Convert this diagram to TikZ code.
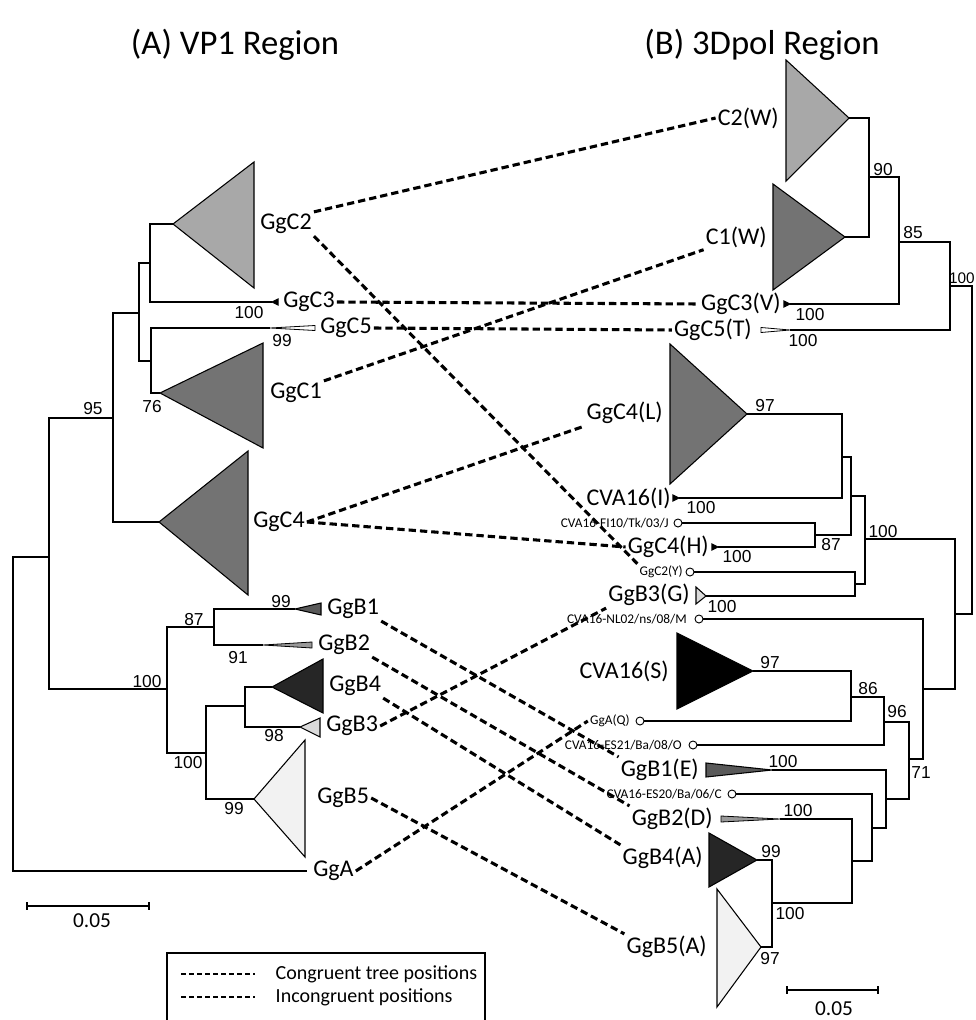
\documentclass[tikz,border=0pt]{standalone}
\usepackage{fontspec}
\setmainfont{Carlito}
\newfontfamily\numfont{Liberation Sans}
\usetikzlibrary{positioning}

\definecolor{cladeLight}{gray}{0.66}
\definecolor{cladeDark}{gray}{0.45}
\definecolor{cladeBlack}{gray}{0.15}
\definecolor{cladePale}{gray}{0.86}
\definecolor{cladeWhite}{gray}{0.95}
\definecolor{cladeMid}{gray}{0.35}
\definecolor{cladeGrey}{gray}{0.6}

\begin{document}
\begin{tikzpicture}[
    x=0.75pt, y=-0.75pt,
    branch/.style={line width=0.8pt},
    clade/.style={draw, line width=0.8pt, line join=miter},
    tipdot/.style={draw, fill=white, line width=0.7pt},
    link/.style={line width=2.3pt, dash pattern=on 5.5pt off 3pt},
    taxon/.style={font=\fontsize{18}{20}\selectfont, inner sep=1.5pt},
    strain/.style={font=\fontsize{10}{12}\selectfont, inner sep=1.5pt},
    boot/.style={font=\numfont\fontsize{13}{14}\selectfont, inner sep=0pt},
    heading/.style={font=\fontsize{26}{30}\selectfont},
    scalelab/.style={font=\fontsize{16}{18}\selectfont}
]
\useasboundingbox (0,0) rectangle (975,1020);

% Titles
\node[heading] (titleA) at (235,45) {(A) VP1 Region};
\node[heading] (titleB) at (762,45) {(B) 3Dpol Region};

% VP1 tree: branches
\draw[branch] (49,557) -- (13,557) -- (13,871) -- (307,871);
\draw[branch] (113,418) -- (49,418) -- (49,689) -- (167,689);
\draw[branch] (139,313) -- (113,313) -- (113,522) -- (159,522);
\draw[branch] (150,263) -- (139,263) -- (139,361) -- (151,361);
\draw[branch] (173,224) -- (150,224) -- (150,302) -- (272,302);
\draw[branch] (270,328) -- (151,328) -- (151,393) -- (160,393);
\draw[branch] (214,627) -- (167,627) -- (167,753) -- (206,753);
\draw[branch] (295,609) -- (214,609) -- (214,645) -- (263,645);
\draw[branch] (245,706) -- (206,706) -- (206,799) -- (254,799);
\draw[branch] (272,687) -- (245,687) -- (245,727) -- (300,727);

% VP1 tree: collapsed clades
\draw[clade, fill=cladeLight] (173,224) -- (254,162) -- (254,288) -- cycle;
\draw[clade, fill=black] (272,302) -- (278,299) -- (278,305) -- cycle;
\draw[clade, fill=white, line width=0.6pt] (270,328) -- (315,325.5) -- (315,330.5) -- cycle;
\draw[clade, fill=cladeDark] (160,393) -- (263,343) -- (263,448) -- cycle;
\draw[clade, fill=cladeDark] (159,522) -- (248,451) -- (248,595) -- cycle;
\draw[clade, fill=cladeMid] (295,609) -- (321,603) -- (321,615) -- cycle;
\draw[clade, fill=cladeGrey, line width=0.6pt] (263,645) -- (312,642) -- (312,648) -- cycle;
\draw[clade, fill=cladeBlack] (272,687) -- (323,659) -- (323,713) -- cycle;
\draw[clade, fill=cladePale] (300,727) -- (320,718) -- (320,737) -- cycle;
\draw[clade, fill=cladeWhite] (254,799) -- (305,740) -- (305,857) -- cycle;

% VP1 tree: taxa
\node[taxon, anchor=west] (GgC2) at (258,224) {GgC2};
\node[taxon, anchor=west] (GgC3) at (281,302) {GgC3};
\node[taxon, anchor=west] (GgC5) at (318,328) {GgC5};
\node[taxon, anchor=west] (GgC1) at (268,393) {GgC1};
\node[taxon, anchor=west] (GgC4) at (251,522) {GgC4};
\node[taxon, anchor=west] (GgB1) at (325,609) {GgB1};
\node[taxon, anchor=west] (GgB2) at (316,645) {GgB2};
\node[taxon, anchor=west] (GgB4) at (327,686) {GgB4};
\node[taxon, anchor=west] (GgB3) at (324,726) {GgB3};
\node[taxon, anchor=west] (GgB5) at (315,798) {GgB5};
\node[taxon, anchor=west] (GgA) at (311,871) {GgA};

% VP1 tree: support values
\node[boot] (bs95) at (93,409) {95};
\node[boot] (bs76) at (152,407) {76};
\node[boot] (bsC3) at (249,313) {100};
\node[boot] (bsC5) at (282,341) {99};
\node[boot] (bsB) at (147,682) {100};
\node[boot] (bs87) at (194,620) {87};
\node[boot] (bsB1) at (281,602) {99};
\node[boot] (bs91) at (238,658) {91};
\node[boot] (bs98) at (274,736) {98};
\node[boot] (bsB45) at (188,763) {100};
\node[boot] (bsB5) at (234,809) {99};

% 3Dpol tree: branches
\draw[branch] (849,118) -- (869,118) -- (869,237) -- (845,237);
\draw[branch] (869,177) -- (899,177) -- (899,304) -- (790,304);
\draw[branch] (899,242) -- (950,242) -- (950,330) -- (790,330);
\draw[branch] (950,286) -- (972,286) -- (972,614) -- (955,614);
\draw[branch] (865,539) -- (955,539) -- (955,689) -- (923,689);
\draw[branch] (851,496) -- (865,496) -- (865,584) -- (855,584);
\draw[branch] (842,457) -- (851,457) -- (851,535) -- (815,535);
\draw[branch] (747,414) -- (842,414) -- (842,498) -- (679,498);
\draw[branch] (682,523) -- (815,523) -- (815,547) -- (718,547);
\draw[branch] (694,572) -- (855,572) -- (855,596) -- (706,596);
\draw[branch] (703,619) -- (923,619) -- (923,759) -- (909,759);
\draw[branch] (884,722) -- (909,722) -- (909,799) -- (886,799);
\draw[branch] (753,671) -- (851,671) -- (851,721) -- (644,721);
\draw[branch] (851,697) -- (884,697) -- (884,745) -- (697,745);
\draw[branch] (772,770) -- (886,770) -- (886,828) -- (872,828);
\draw[branch] (736,794) -- (872,794) -- (872,861) -- (852,861);
\draw[branch] (780,819) -- (852,819) -- (852,903) -- (772,903);
\draw[branch] (757,860) -- (772,860) -- (772,947) -- (761,947);

% 3Dpol tree: collapsed clades and single strains
\draw[clade, fill=cladeLight] (849,118) -- (786,60) -- (786,181) -- cycle;
\draw[clade, fill=cladeDark] (845,237) -- (773,184) -- (773,290) -- cycle;
\draw[clade, fill=black] (790,304) -- (784,301) -- (784,307) -- cycle;
\draw[clade, fill=white, line width=0.6pt] (790,330) -- (761,327.5) -- (761,332.5) -- cycle;
\draw[clade, fill=cladeDark] (747,414) -- (670,344) -- (670,484) -- cycle;
\draw[clade, fill=black] (679,498) -- (673,495) -- (673,501) -- cycle;
\draw[clade, fill=black] (718,547) -- (712,544) -- (712,550) -- cycle;
\draw[clade, fill=cladePale] (706,596) -- (696,587) -- (696,604) -- cycle;
\draw[clade, fill=black] (753,671) -- (677,633) -- (677,709) -- cycle;
\draw[clade, fill=cladeMid] (772,770) -- (706,763) -- (706,777) -- cycle;
\draw[clade, fill=cladeGrey, line width=0.6pt] (780,819) -- (721,816) -- (721,822) -- cycle;
\draw[clade, fill=cladeBlack] (757,860) -- (709,833) -- (709,887) -- cycle;
\draw[clade, fill=cladeWhite] (761,947) -- (717,889) -- (717,1007) -- cycle;
\draw[tipdot] (678,523) circle[radius=4];
\draw[tipdot] (690,572) circle[radius=4];
\draw[tipdot] (699,619) circle[radius=4];
\draw[tipdot] (640,721) circle[radius=4];
\draw[tipdot] (693,745) circle[radius=4];
\draw[tipdot] (732,794) circle[radius=4];

% 3Dpol tree: taxa
\node[taxon, anchor=east] (C2W) at (781,118) {C2(W)};
\node[taxon, anchor=east] (C1W) at (769,237) {C1(W)};
\node[taxon, anchor=east] (GgC3V) at (783,304) {GgC3(V)};
\node[taxon, anchor=east] (GgC5T) at (754,330) {GgC5(T)};
\node[taxon, anchor=east] (GgC4L) at (665,413) {GgC4(L)};
\node[taxon, anchor=east] (CVAI) at (673,498) {CVA16(I)};
\node[strain, anchor=east] (FI10) at (671,523) {CVA16-FI10/Tk/03/J};
\node[taxon, anchor=east] (GgC4H) at (711,547) {GgC4(H)};
\node[strain, anchor=east] (GgC2Y) at (685,572) {GgC2(Y)};
\node[taxon, anchor=east] (GgB3G) at (692,595) {GgB3(G)};
\node[strain, anchor=east] (NL02) at (689,619) {CVA16-NL02/ns/08/M};
\node[taxon, anchor=east] (CVAS) at (671,671) {CVA16(S)};
\node[strain, anchor=east] (GgAQ) at (632,721) {GgA(Q)};
\node[strain, anchor=east] (ES21) at (684,745) {CVA16-ES21/Ba/08/O};
\node[taxon, anchor=east] (GgB1E) at (701,770) {GgB1(E)};
\node[strain, anchor=east] (ES20) at (724,794) {CVA16-ES20/Ba/06/C};
\node[taxon, anchor=east] (GgB2D) at (715,819) {GgB2(D)};
\node[taxon, anchor=east] (GgB4A) at (705,858) {GgB4(A)};
\node[taxon, anchor=east] (GgB5A) at (709,947) {GgB5(A)};

% 3Dpol tree: support values
\node[boot] (bs90) at (883,170) {90};
\node[boot] (bs85) at (913,233) {85};
\node[boot, anchor=east, font=\numfont\fontsize{11.5}{13}\selectfont] (bsTop) at (975,278) {100};
\node[boot] (bsC3V) at (810,315) {100};
\node[boot] (bsC5T) at (803,341) {100};
\node[boot] (bsC4L) at (765,406) {97};
\node[boot] (bsI) at (701,508) {100};
\node[boot] (bs87r) at (831,545) {87};
\node[boot] (bsC4H) at (737,557) {100};
\node[boot] (bsMid) at (883,532) {100};
\node[boot] (bsB3G) at (722,607) {100};
\node[boot] (bsS) at (770,663) {97};
\node[boot] (bs86) at (868,689) {86};
\node[boot] (bs96) at (897,712) {96};
\node[boot] (bs71) at (921,773) {71};
\node[boot] (bsB1E) at (783,762) {100};
\node[boot] (bsB2D) at (798,811) {100};
\node[boot] (bsB4A) at (771,852) {99};
\node[boot] (bsB45r) at (790,914) {100};
\node[boot] (bsB5A) at (770,959) {97};

% Links between the trees
\draw[link] (GgC2.north east) -- (C2W.west);
\draw[link] (GgC2.south east) -- (GgC2Y.north west);
\draw[link] (GgC3.east) -- (GgC3V.west);
\draw[link] (GgC5.east) -- (GgC5T.west);
\draw[link] (GgC1.north east) -- (C1W.south west);
\draw[link] (GgC4.east) -- (GgC4L.south west);
\draw[link] (GgC4.east) -- (GgC4H.west);
\draw[link] (GgB1.south east) -- (GgB1E.north west);
\draw[link] (GgB2.south east) -- (GgB2D.north west);
\draw[link] (GgB4.south east) -- (GgB4A.north west);
\draw[link] (GgB3.east) -- (GgB3G.south west);
\draw[link] (GgB5.east) -- (GgB5A.north west);
\draw[link] (GgA.east) -- (GgAQ.west);

% Scale bars
\draw[branch] (27,902) -- (27,910) (27,906) -- (149,906) (149,902) -- (149,910);
\node[scalelab] (scaleA) at (92,921) {0.05};
\draw[branch] (787,986) -- (787,994) (787,990) -- (878,990) (878,986) -- (878,994);
\node[scalelab] (scaleB) at (834,1009) {0.05};

% Legend
\draw[line width=0.8pt] (167,953) rectangle (485,1040);
\coordinate (congA) at (181,974);
\coordinate (congB) at (255,974);
\coordinate (incoA) at (181,997);
\coordinate (incoB) at (255,997);
\draw[link, line width=1.8pt, dash pattern=on 4pt off 2pt] (congA) -- (congB);
\draw[link, line width=1.8pt, dash pattern=on 4pt off 2pt] (incoA) -- (incoB);
\node[anchor=west, font=\fontsize{15}{17}\selectfont] (congText) at (271,974) {Congruent tree positions};
\node[anchor=west, font=\fontsize{15}{17}\selectfont] (incoText) at (271,997) {Incongruent positions};

\end{tikzpicture}
\end{document}
